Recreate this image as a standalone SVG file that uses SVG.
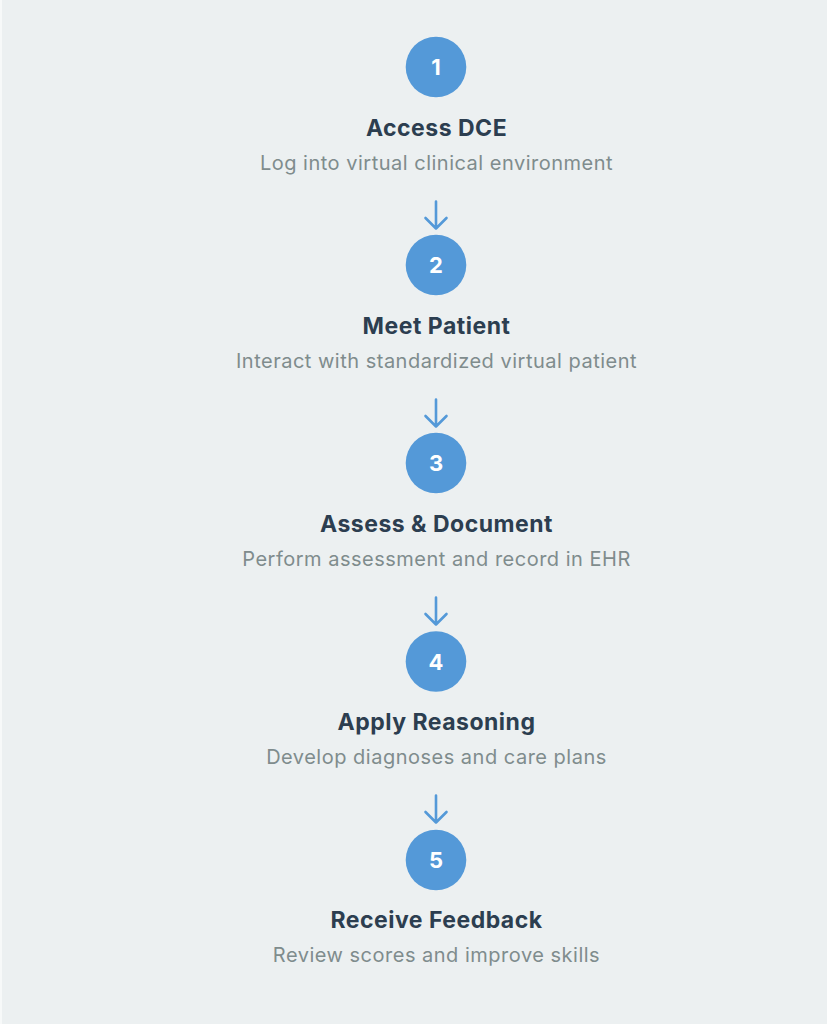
<svg xmlns="http://www.w3.org/2000/svg" width="827" height="1024" viewBox="0 0 827 1024">
<defs>
<style>
.bg{fill:#ecf0f1}
.c{fill:#5499d8}
.n{font-family:Inter,"Liberation Sans",sans-serif;font-weight:700;font-size:22px;fill:#ffffff;text-anchor:middle}
.t{font-family:Inter,"Liberation Sans",sans-serif;font-weight:700;font-size:23px;letter-spacing:0.5px;fill:#2c3e50;text-anchor:middle}
.s{font-family:Inter,"Liberation Sans",sans-serif;font-weight:400;font-size:20px;letter-spacing:0.5px;fill:#7f8c8d;text-anchor:middle}
.a{fill:none;stroke:#5499d8;stroke-width:2.6;stroke-linecap:round;stroke-linejoin:round}
</style>
</defs>
<rect x="0" y="0" width="827" height="1024" fill="#f7f9f9"/>
<rect class="bg" x="2" y="0" width="825" height="1024"/>
<g id="connectors">
<path class="a" d="M436 201.5V228.5M425.5 218L436 228.5L446.5 218"/>
<path class="a" d="M436 399.5V426.5M425.5 416L436 426.5L446.5 416"/>
<path class="a" d="M436 597.5V624.5M425.5 614L436 624.5L446.5 614"/>
<path class="a" d="M436 795.5V822.5M425.5 812L436 822.5L446.5 812"/>
</g>
<g id="step1">
<circle class="c" cx="436" cy="67" r="30.3"/>
<text class="n" x="436" y="75">1</text>
<text class="t" x="436.5" y="136">Access DCE</text>
<text class="s" x="436.5" y="170">Log into virtual clinical environment</text>
</g>
<g id="step2">
<circle class="c" cx="436" cy="265" r="30.3"/>
<text class="n" x="436" y="273">2</text>
<text class="t" x="436.5" y="334">Meet Patient</text>
<text class="s" x="436.5" y="368">Interact with standardized virtual patient</text>
</g>
<g id="step3">
<circle class="c" cx="436" cy="463" r="30.3"/>
<text class="n" x="436" y="471">3</text>
<text class="t" x="436.5" y="532">Assess &amp; Document</text>
<text class="s" x="436.5" y="566">Perform assessment and record in EHR</text>
</g>
<g id="step4">
<circle class="c" cx="436" cy="661.5" r="30.3"/>
<text class="n" x="436" y="669.5">4</text>
<text class="t" x="436.5" y="730">Apply Reasoning</text>
<text class="s" x="436.5" y="764">Develop diagnoses and care plans</text>
</g>
<g id="step5">
<circle class="c" cx="436" cy="860" r="30.3"/>
<text class="n" x="436" y="868">5</text>
<text class="t" x="436.5" y="928">Receive Feedback</text>
<text class="s" x="436.5" y="962">Review scores and improve skills</text>
</g>
</svg>
